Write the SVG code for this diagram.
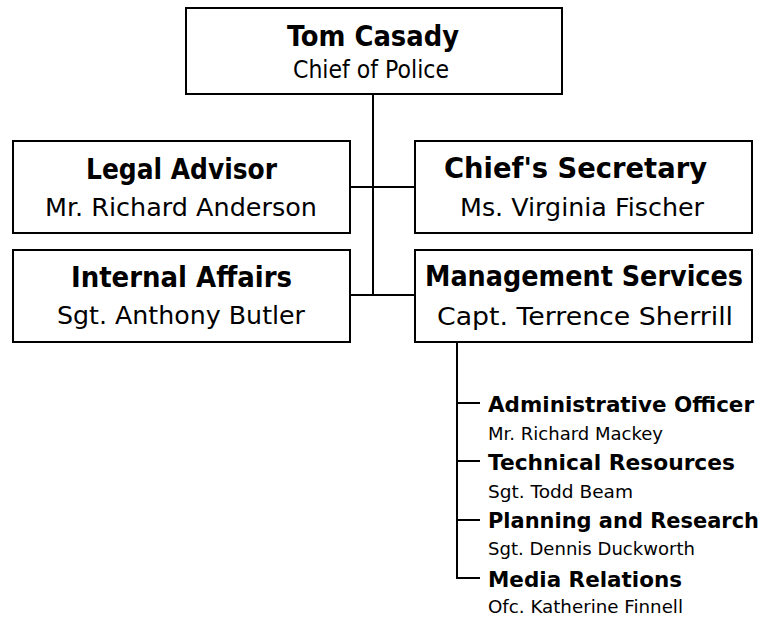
<svg xmlns="http://www.w3.org/2000/svg" width="765" height="617" viewBox="0 0 765 617">
<style>
.box{fill:#fff;stroke:#000;stroke-width:2}
.ln{fill:none;stroke:#000;stroke-width:2}
text{font-family:"DejaVu Sans",sans-serif;fill:#000}
.t{font-family:"DejaVu Sans Condensed","DejaVu Sans",sans-serif;font-weight:bold;font-size:28px;text-anchor:middle}
.s{font-size:25px;text-anchor:middle}
.lt{font-weight:bold;font-size:21px}
.ls{font-size:18.5px}
</style>
<rect width="765" height="617" fill="#fff"/>
<g id="connectors">
<path class="ln" d="M373 94V295M350 187H415M350 295H415"/>
<path class="ln" d="M457 342V578H480M457 403H480M457 461H480M457 520H480"/>
</g>
<g id="chief">
<rect class="box" x="186" y="8" width="376" height="86"/>
<text class="t" x="373" y="46" textLength="172" lengthAdjust="spacingAndGlyphs">Tom Casady</text>
<text class="s" x="371" y="78" textLength="156" lengthAdjust="spacingAndGlyphs">Chief of Police</text>
</g>
<g id="legal">
<rect class="box" x="13" y="141" width="337" height="92"/>
<text class="t" x="181.5" y="179" textLength="191" lengthAdjust="spacingAndGlyphs">Legal Advisor</text>
<text class="s" x="181" y="216" textLength="272" lengthAdjust="spacingAndGlyphs">Mr. Richard Anderson</text>
</g>
<g id="secretary">
<rect class="box" x="415" y="141" width="337" height="92"/>
<text class="t" x="575.5" y="178" textLength="263" lengthAdjust="spacingAndGlyphs">Chief's Secretary</text>
<text class="s" x="582" y="216" textLength="244" lengthAdjust="spacingAndGlyphs">Ms. Virginia Fischer</text>
</g>
<g id="internal">
<rect class="box" x="13" y="250" width="337" height="92"/>
<text class="t" x="181.5" y="287" textLength="221" lengthAdjust="spacingAndGlyphs">Internal Affairs</text>
<text class="s" x="181" y="324" textLength="248" lengthAdjust="spacingAndGlyphs">Sgt. Anthony Butler</text>
</g>
<g id="management">
<rect class="box" x="415" y="250" width="337" height="92"/>
<text class="t" x="584" y="286" textLength="318" lengthAdjust="spacingAndGlyphs">Management Services</text>
<text class="s" x="585" y="325" textLength="296" lengthAdjust="spacingAndGlyphs">Capt. Terrence Sherrill</text>
</g>
<g id="admin">
<text class="lt" x="488" y="412" textLength="266" lengthAdjust="spacingAndGlyphs">Administrative Officer</text>
<text class="ls" x="488" y="440" textLength="175" lengthAdjust="spacingAndGlyphs">Mr. Richard Mackey</text>
</g>
<g id="technical">
<text class="lt" x="488" y="470" textLength="247" lengthAdjust="spacingAndGlyphs">Technical Resources</text>
<text class="ls" x="488" y="498" textLength="145" lengthAdjust="spacingAndGlyphs">Sgt. Todd Beam</text>
</g>
<g id="planning">
<text class="lt" x="488" y="528" textLength="271" lengthAdjust="spacingAndGlyphs">Planning and Research</text>
<text class="ls" x="488" y="555" textLength="207" lengthAdjust="spacingAndGlyphs">Sgt. Dennis Duckworth</text>
</g>
<g id="media">
<text class="lt" x="488" y="587" textLength="194" lengthAdjust="spacingAndGlyphs">Media Relations</text>
<text class="ls" x="488" y="613" textLength="195" lengthAdjust="spacingAndGlyphs">Ofc. Katherine Finnell</text>
</g>
</svg>
